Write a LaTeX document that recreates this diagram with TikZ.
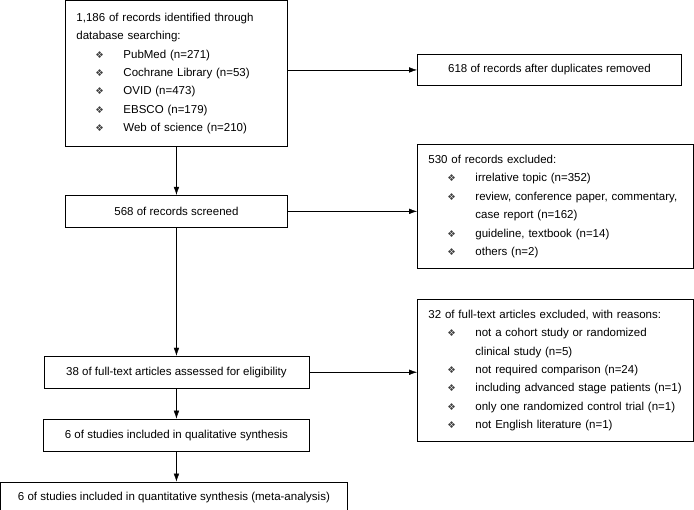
\documentclass[tikz,border=0pt]{standalone}
\usepackage{fontspec}
\setmainfont{Liberation Sans}
\newfontfamily\dingfont{DejaVu Sans}
\usetikzlibrary{positioning,arrows.meta}

\newcommand{\pbul}{\hspace*{19pt}\makebox[28pt][l]{\dingfont\fontsize{9.5}{9.5}\selectfont\textcolor{darkgray}{❖}}}
\newcommand{\pcont}{\hspace*{47pt}}

\tikzset{
  box/.style={draw, line width=0.9pt, inner sep=0pt, minimum height=32pt, align=center},
  listbox/.style={draw, line width=0.9pt, inner xsep=11pt, inner ysep=0pt, align=left, anchor=north west},
}

\begin{document}
\begin{tikzpicture}[x=1pt, y=-1pt, font=\fontsize{11.5}{18.4}\selectfont, >={Latex[length=8pt,width=5.5pt]}]
  \useasboundingbox (0,0) rectangle (694,510);
  % left column
  \node[listbox, text width=200pt, minimum height=146pt] (ident) at (65,0) {
    1,186 of records identified through\\
    database searching:\\
    \pbul PubMed (n=271)\\
    \pbul Cochrane Library (n=53)\\
    \pbul OVID (n=473)\\
    \pbul EBSCO (n=179)\\
    \pbul Web of science (n=210)
  };
  \node[box, minimum width=222pt, below=48pt of ident] (screen) {568 of records screened};
  \node[box, minimum width=265pt, below=128pt of screen] (full) {38 of full-text articles assessed for eligibility};
  \node[box, minimum width=266pt, below=30pt of full] (qual) {6 of studies included in qualitative synthesis};
  \node[box, minimum width=347pt, minimum height=31pt, below=30pt of qual, xshift=-2.5pt] (quant) {6 of studies included in quantitative synthesis (meta-analysis)};
  % right column
  \node[box, minimum width=264pt, minimum height=31pt, anchor=north west] (dup) at (417,54) {618 of records after duplicates removed};
  \node[listbox, text width=254pt, minimum height=124pt] (excl) at (417,144) {
    530 of records excluded:\\
    \pbul irrelative topic (n=352)\\
    \pbul review, conference paper, commentary,\\
    \pcont case report (n=162)\\
    \pbul guideline, textbook (n=14)\\
    \pbul others (n=2)
  };
  \node[listbox, text width=254pt, minimum height=142pt] (fexcl) at (417,299) {
    32 of full-text articles excluded, with reasons:\\
    \pbul not a cohort study or randomized\\
    \pcont clinical study (n=5)\\
    \pbul not required comparison (n=24)\\
    \pbul including advanced stage patients (n=1)\\
    \pbul only one randomized control trial (n=1)\\
    \pbul not English literature (n=1)
  };
  \draw[->] (ident) edge (screen);
  \draw[->] (screen) edge (full);
  \draw[->] (full) edge (qual);
  \draw[->] (qual.south) -- (qual.south |- quant.north);
  \draw[->] (ident.east |- dup.west) -- (dup.west);
  \draw[->] (screen.east) -- (screen.east -| excl.west);
  \draw[->] (full.east) -- (full.east -| fexcl.west);
\end{tikzpicture}
\end{document}
